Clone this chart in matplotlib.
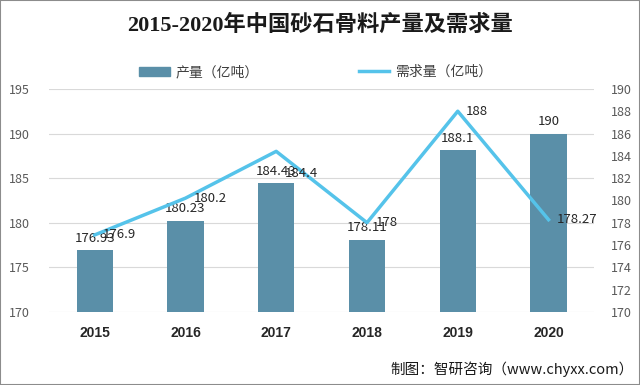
import numpy as np
import matplotlib.pyplot as plt
from matplotlib.patches import Rectangle
from matplotlib.lines import Line2D

years = ['2015', '2016', '2017', '2018', '2019', '2020']
output = [176.93, 180.23, 184.43, 178.11, 188.1, 190]      # 产量（亿吨）
demand = [176.9, 180.2, 184.4, 178, 188, 178.27]           # 需求量（亿吨）

bar_color = '#5a8fa8'
line_color = '#55c3ea'
cjk = ['Noto Sans CJK SC', 'DejaVu Sans']
plt.rcParams['font.family'] = cjk

fig = plt.figure(figsize=(6.4, 3.85), dpi=100)
ax = fig.add_axes([0.077, 0.19, 0.851, 0.579])
ax2 = ax.twinx()

x = np.arange(len(years))
ax.bar(x, output, width=0.4, color=bar_color, zorder=2)
ax2.plot(x, demand, color=line_color, lw=2.5, zorder=3)

ax.set_xlim(-0.5, 5.5)
ax.set_ylim(170, 195)
ax.set_yticks(np.arange(170, 196, 5))
ax2.set_ylim(170, 190)
ax2.set_yticks(np.arange(170, 191, 2))
ax.grid(axis='y', color='#d9d9d9', lw=0.8, zorder=0)
ax.set_axisbelow(True)

for a in (ax, ax2):
    for s in a.spines.values():
        s.set_visible(False)
    a.tick_params(length=0, labelsize=9, labelcolor='#595959')
ax.tick_params(axis='y', pad=14)
ax2.tick_params(axis='y', pad=12)
ax.set_xticks(x)
ax.set_xticklabels(years, fontsize=10, fontweight='bold', color='#262626',
                   family=['Liberation Sans', 'DejaVu Sans'])
ax.tick_params(axis='x', pad=10)

# data labels
for xi, v in zip(x, output):
    ax.annotate(f'{v:g}', (xi, v), xytext=(0, 4), textcoords='offset points',
                ha='center', va='bottom', fontsize=9.5, color='#262626')
line_dy = [0, 0, -16, 0, 0, 0]
for xi, v, dy in zip(x, demand, line_dy):
    ax2.annotate(f'{v:g}', (xi, v), xytext=(6, dy), textcoords='offset points',
                 ha='left', va='center', fontsize=9.5, color='#262626')

fig.text(0.5, 0.935, '2015-2020年中国砂石骨料产量及需求量', ha='center', va='center',
         fontsize=16, fontweight='bold', color='#1a1a1a',
         family=['Liberation Serif', 'Noto Sans CJK SC'])

handles = [Rectangle((0, 0), 1, 1, color=bar_color),
           Line2D([0], [0], color=line_color, lw=2.5)]
fig.legend(handles, ['产量（亿吨）', '需求量（亿吨）'], loc='center left',
           bbox_to_anchor=(0.198, 0.813), ncol=2, frameon=False, fontsize=10,
           columnspacing=7.2, handlelength=2.2, handleheight=0.6, handletextpad=0.4,
           labelcolor='#404040')

fig.text(0.99, 0.04, '制图：智研咨询（www.chyxx.com）', ha='right', va='center',
         fontsize=10.5, color='#1a1a1a')

fig.patches.append(Rectangle((0, 0), 1, 1, transform=fig.transFigure, fill=False,
                             edgecolor='#8c8c8c', lw=1.5))

fig.savefig('out.png', dpi=100)
